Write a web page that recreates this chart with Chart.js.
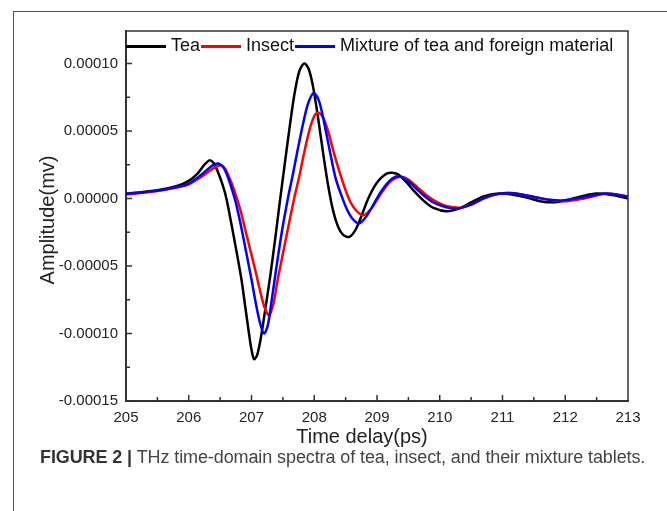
<!DOCTYPE html>
<html>
<head>
<meta charset="utf-8">
<script src="https://cdn.jsdelivr.net/npm/chart.js@4.4.0/dist/chart.umd.min.js"></script>
<style>
  html, body { margin: 0; padding: 0; background: #fff; }
  body { width: 667px; height: 511px; position: relative; overflow: hidden; font-family: "Liberation Sans", Arial, sans-serif; }
  #frame { position: absolute; left: 13px; top: 11px; width: 700px; height: 600px; border-left: 1.5px solid #555; border-top: 1.5px solid #555; }
  #chart { position: absolute; left: 0; top: 0; }
  #caption { position: absolute; left: 40px; top: 447px; font-size: 18px; color: #444; white-space: nowrap; letter-spacing: -0.1px; }
  #caption b { color: #333; }
</style>
</head>
<body>
<div id="frame"></div>
<canvas id="chart" width="667" height="511"></canvas>
<div id="caption"><b>FIGURE 2 |</b> THz time-domain spectra of tea, insect, and their mixture tablets.</div>
<script>
// series (time in ps, amplitude in mv)
const teaTime = [205.0, 205.5, 205.8, 206.0, 206.15, 206.25, 206.33, 206.4, 206.47, 206.54, 206.6, 206.68, 206.76, 206.84, 206.9, 206.96, 207.0, 207.04, 207.09, 207.15, 207.22, 207.3, 207.38, 207.45, 207.52, 207.6, 207.68, 207.76, 207.84, 207.91, 207.98, 208.06, 208.14, 208.22, 208.3, 208.38, 208.46, 208.56, 208.66, 208.76, 208.86, 208.96, 209.06, 209.16, 209.23, 209.33, 209.45, 209.6, 209.75, 209.9, 210.11, 210.3, 210.5, 210.7, 210.93, 211.15, 211.4, 211.6, 211.8, 212.0, 212.25, 212.5, 212.75, 213.0];
const teaAmp = [3.5e-6, 6.0e-6, 9.0e-6, 1.3e-5, 1.9e-5, 2.5e-5, 2.82e-5, 2.6e-5, 1.9e-5, 1.0e-5, 0, -1.9e-5, -3.9e-5, -6.0e-5, -8.0e-5, -1.0e-4, -1.12e-4, -1.19e-4, -1.16e-4, -1.03e-4, -8.2e-5, -5.7e-5, -2.9e-5, -3.0e-6, 2.2e-5, 5.0e-5, 7.6e-5, 9.4e-5, 1.0e-4, 9.6e-5, 8.3e-5, 6.0e-5, 3.4e-5, 1.0e-5, -9.0e-6, -2.1e-5, -2.7e-5, -2.85e-5, -2.3e-5, -1.2e-5, 0, 9.0e-6, 1.5e-5, 1.85e-5, 1.91e-5, 1.8e-5, 1.3e-5, 5.0e-6, -2.0e-6, -7.0e-6, -9.5e-6, -7.5e-6, -3.0e-6, 1.5e-6, 3.6e-6, 3.0e-6, 5.0e-7, -2.0e-6, -2.9e-6, -1.5e-6, 1.5e-6, 3.6e-6, 2.5e-6, 1.0e-7];

const insectTime = [205.0, 205.5, 205.8, 206.0, 206.2, 206.35, 206.5, 206.58, 206.66, 206.74, 206.82, 206.9, 206.98, 207.06, 207.14, 207.21, 207.28, 207.35, 207.41, 207.5, 207.6, 207.68, 207.76, 207.84, 207.92, 208.0, 208.06, 208.13, 208.22, 208.3, 208.4, 208.5, 208.58, 208.67, 208.78, 208.9, 209.0, 209.1, 209.2, 209.3, 209.39, 209.5, 209.65, 209.8, 209.95, 210.1, 210.32, 210.5, 210.7, 210.9, 211.1, 211.3, 211.55, 211.8, 212.03, 212.3, 212.66, 213.0];
const insectAmp = [3.0e-6, 5.5e-6, 8.0e-6, 1.05e-5, 1.6e-5, 2.1e-5, 2.45e-5, 2.2e-5, 1.4e-5, 4.0e-6, -8.0e-6, -2.3e-5, -3.8e-5, -5.3e-5, -6.9e-5, -8.1e-5, -8.65e-5, -7.8e-5, -6.2e-5, -4.1e-5, -1.8e-5, 0, 1.6e-5, 3.4e-5, 5.0e-5, 6.1e-5, 6.35e-5, 6.1e-5, 5.0e-5, 3.6e-5, 2.0e-5, 6.0e-6, -3.0e-6, -9.0e-6, -1.25e-5, -8.0e-6, -1.0e-6, 6.0e-6, 1.2e-5, 1.5e-5, 1.6e-5, 1.4e-5, 8.0e-6, 2.0e-6, -2.5e-6, -5.5e-6, -6.8e-6, -4.5e-6, 0, 3.0e-6, 4.0e-6, 3.0e-6, 5.0e-7, -1.5e-6, -2.0e-6, 0, 3.6e-6, 1.5e-6];

const mixTime = [205.0, 205.5, 205.8, 206.0, 206.2, 206.35, 206.46, 206.55, 206.63, 206.7, 206.76, 206.84, 206.92, 207.0, 207.07, 207.14, 207.2, 207.26, 207.32, 207.4, 207.49, 207.58, 207.66, 207.74, 207.82, 207.9, 207.99, 208.07, 208.15, 208.24, 208.34, 208.45, 208.52, 208.6, 208.71, 208.82, 208.95, 209.05, 209.15, 209.25, 209.34, 209.45, 209.6, 209.75, 209.9, 210.1, 210.3, 210.5, 210.7, 210.9, 211.1, 211.3, 211.55, 211.75, 211.95, 212.3, 212.66, 213.0];
const mixAmp = [3.2e-6, 5.8e-6, 8.5e-6, 1.1e-5, 1.75e-5, 2.35e-5, 2.58e-5, 2.3e-5, 1.5e-5, 5.0e-6, -5.0e-6, -2.2e-5, -4.1e-5, -6.0e-5, -7.8e-5, -9.3e-5, -1.0e-4, -9.4e-5, -7.6e-5, -5.0e-5, -2.3e-5, 0, 1.8e-5, 3.7e-5, 5.5e-5, 7.0e-5, 7.8e-5, 7.3e-5, 5.8e-5, 3.7e-5, 1.5e-5, 0, -8.0e-6, -1.45e-5, -1.86e-5, -1.4e-5, -4.0e-6, 4.0e-6, 1.05e-5, 1.5e-5, 1.64e-5, 1.45e-5, 8.5e-6, 2.0e-6, -3.0e-6, -6.5e-6, -7.5e-6, -4.5e-6, 0, 3.0e-6, 4.0e-6, 3.0e-6, 7.0e-7, -1.0e-6, -1.5e-6, 1.0e-6, 3.6e-6, 1.2e-6];

const seriesNames = ["Tea", "Insect", "Mixture of tea and foreign material"];
const seriesColors = ["#000000", "#ff0000", "#0000ff"];

const xTickValues = [205, 206, 207, 208, 209, 210, 211, 212, 213];
const yTickValues = [-0.00015, -0.0001, -0.00005, 0, 0.00005, 0.0001];

function toPoints(xs, ys) {
    return xs.map((x, i) => ({ x: x, y: ys[i] }));
}

const FONT = "'Liberation Sans', Arial, sans-serif";

// inward ticks, top/right border, axis titles and the in-plot legend
const decorPlugin = {
    id: "decor",
    afterDraw(chart) {
        const ctx = chart.ctx;
        const a = chart.chartArea;
        const xs = chart.scales.x, ys = chart.scales.y;
        ctx.save();
        ctx.strokeStyle = "#333";
        ctx.lineWidth = 1.5;
        ctx.beginPath();
        ctx.moveTo(a.left, a.top);
        ctx.lineTo(a.right, a.top);
        ctx.lineTo(a.right, a.bottom);
        ctx.stroke();

        ctx.beginPath();
        for (let v = 205; v < 213; v += 0.5) {
            const px = xs.getPixelForValue(v);
            const len = Number.isInteger(v) ? 6 : 4;
            ctx.moveTo(px, a.bottom);
            ctx.lineTo(px, a.bottom - len);
        }
        for (let k = -6; k <= 4; k++) {
            const v = k * 0.000025;
            const py = ys.getPixelForValue(v);
            const len = k % 2 === 0 ? 6 : 4;
            ctx.moveTo(a.left, py);
            ctx.lineTo(a.left + len, py);
        }
        ctx.stroke();

        ctx.fillStyle = "#222";
        ctx.font = "20px " + FONT;
        ctx.textAlign = "center";
        ctx.textBaseline = "middle";
        ctx.fillText("Time delay(ps)", 362, 437);
        ctx.save();
        ctx.translate(48, 220);
        ctx.rotate(-Math.PI / 2);
        ctx.fillText("Amplitude(mv)", 0, 0);
        ctx.restore();

        // legend
        ctx.font = "18px " + FONT;
        ctx.textAlign = "left";
        let x = a.left;
        const y = 46.5;
        seriesNames.forEach((name, i) => {
            ctx.strokeStyle = seriesColors[i];
            ctx.lineWidth = 3;
            ctx.beginPath();
            ctx.moveTo(x, y);
            ctx.lineTo(x + 40, y);
            ctx.stroke();
            x += 45;
            ctx.fillStyle = "#111";
            ctx.fillText(name, x, y);
            x += ctx.measureText(name).width + 1;
        });
        ctx.restore();
    }
};

new Chart(document.getElementById("chart"), {
    type: "line",
    data: {
        datasets: [
            { label: seriesNames[0], data: toPoints(teaTime, teaAmp), borderColor: seriesColors[0], order: 3 },
            { label: seriesNames[1], data: toPoints(insectTime, insectAmp), borderColor: seriesColors[1], order: 2 },
            { label: seriesNames[2], data: toPoints(mixTime, mixAmp), borderColor: seriesColors[2], order: 1 }
        ]
    },
    options: {
        responsive: false,
        animation: false,
        devicePixelRatio: 1,
        layout: { padding: { left: 0, right: 39, top: 31, bottom: 0 } },
        elements: {
            line: { borderWidth: 2.5, tension: 0.3, fill: false, borderCapStyle: "round", borderJoinStyle: "round" },
            point: { radius: 0 }
        },
        plugins: { legend: { display: false }, tooltip: { enabled: false } },
        scales: {
            x: {
                type: "linear",
                min: 205,
                max: 213,
                afterFit(s) { s.height = 110; },
                afterBuildTicks(s) { s.ticks = xTickValues.map(v => ({ value: v })); },
                grid: { drawOnChartArea: false, drawTicks: false },
                border: { display: true, color: "#333", width: 2 },
                ticks: { color: "#222", font: { size: 15, family: FONT }, padding: 8, maxRotation: 0, callback: v => String(v) }
            },
            y: {
                type: "linear",
                min: -0.00015,
                max: 0.000124,
                afterFit(s) { s.width = 126; },
                afterBuildTicks(s) { s.ticks = yTickValues.map(v => ({ value: v })); },
                grid: { drawOnChartArea: false, drawTicks: false },
                border: { display: true, color: "#333", width: 2 },
                ticks: { color: "#222", font: { size: 15, family: FONT }, padding: 8, callback: v => v.toFixed(5) }
            }
        }
    },
    plugins: [decorPlugin]
});
</script>
</body>
</html>
